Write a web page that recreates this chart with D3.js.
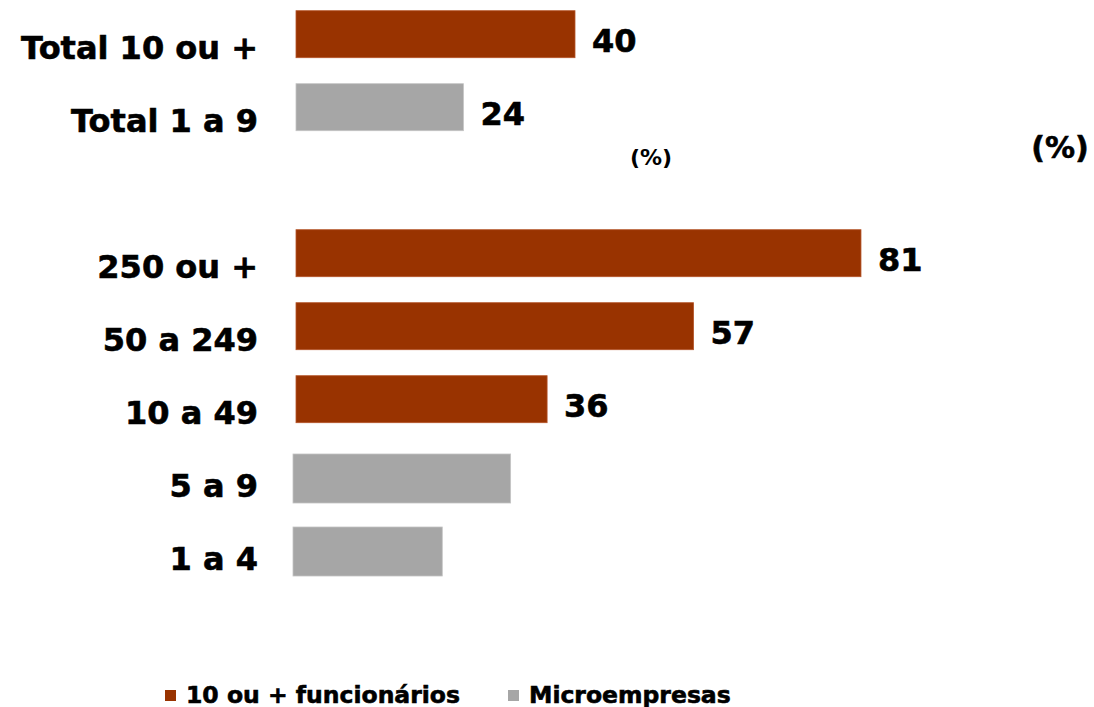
<!DOCTYPE html>
<html><head><meta charset="utf-8">
<script src="https://cdn.jsdelivr.net/npm/d3@7"></script>
<style>
html,body{margin:0;padding:0;background:#fff;}
svg{display:block;font-family:"DejaVu Sans",Verdana,sans-serif;font-weight:bold;}
.heavy{stroke:#000;stroke-width:0.6px;}
</style></head>
<body>
<script>
// ---- data ----
const totalCategories = ["Total 10 ou +", "Total 1 a 9"];
const totalValues = [40, 24];
const totalSeries = ["10 ou + funcionários", "Microempresas"];

const sizeCategories = ["250 ou +", "50 a 249", "10 a 49", "5 a 9", "1 a 4"];
const sizeValues = [81, 57, 36, 31.2, 21.4];
const sizeSeries = ["10 ou + funcionários", "10 ou + funcionários", "10 ou + funcionários", "Microempresas", "Microempresas"];
const sizeShowValue = [true, true, true, false, false];

const seriesNames = ["10 ou + funcionários", "Microempresas"];
const seriesColors = ["#993300", "#a6a6a6"];
const unitLabel = "(%)";

// ---- layout ----
const W = 1094, H = 707;
const svg = d3.select("body").append("svg").attr("width", W).attr("height", H);

const rows = [];
totalCategories.forEach((c, i) => rows.push({cat: c, value: totalValues[i], series: totalSeries[i], show: true, group: "total"}));
sizeCategories.forEach((c, i) => rows.push({cat: c, value: sizeValues[i], series: sizeSeries[i], show: sizeShowValue[i], group: "size"}));

const slotDomain = [...totalCategories, "__gap__", ...sizeCategories];
const y = d3.scalePoint().domain(slotDomain).range([47, 47 + 73 * 7]);
const x = d3.scaleLinear().domain([0, 100]).range([0, 697.5]);
const color = d3.scaleOrdinal().domain(seriesNames).range(seriesColors);

const x0Main = 296, x0Micro = 293;
function isMicroSize(d) { return d.group === "size" && d.series === "Microempresas"; }
function barX(d) { return isMicroSize(d) ? x0Micro : x0Main; }
function barH(d) { return isMicroSize(d) ? 49 : 47; }
function barCenter(d) { return y(d.cat) - (isMicroSize(d) ? 6.5 : 12.8); }

svg.append("g").selectAll("rect").data(rows).join("rect")
  .attr("x", d => barX(d))
  .attr("y", d => barCenter(d) - barH(d) / 2)
  .attr("width", d => x(d.value))
  .attr("height", d => barH(d))
  .attr("fill", d => color(d.series))
  .attr("stroke", d => d.series === "Microempresas" ? "#c4c4c4" : "#b5552a")
  .attr("stroke-width", 0.8);

// category labels
svg.append("g").selectAll("text").data(rows).join("text")
  .attr("class", "heavy")
  .attr("x", 258)
  .attr("y", d => y(d.cat) + 12)
  .attr("text-anchor", "end")
  .attr("font-size", 32)
  .attr("fill", "#000")
  .text(d => d.cat);

// value labels
svg.append("g").selectAll("text").data(rows.filter(d => d.show)).join("text")
  .attr("class", "heavy")
  .attr("x", d => barX(d) + x(d.value) + 17)
  .attr("y", d => barCenter(d) + 17.5)
  .attr("font-size", 32)
  .attr("fill", "#000")
  .text(d => d3.format("d")(d.value));

// unit labels
svg.append("text").attr("x", 651).attr("y", 165).attr("text-anchor", "middle")
  .attr("font-size", 22).text(unitLabel);
svg.append("text").attr("class", "heavy").attr("x", 1060).attr("y", 158).attr("text-anchor", "middle")
  .attr("font-size", 30).text(unitLabel);

// legend
const legendX = [165, 508];
const lg = svg.append("g").selectAll("g").data(seriesNames).join("g")
  .attr("transform", (d, i) => `translate(${legendX[i]},690)`);
lg.append("rect").attr("width", 11).attr("height", 11).attr("fill", d => color(d));
lg.append("text").attr("class", "heavy").attr("x", 21).attr("y", 12.5).attr("font-size", 23.5).attr("stroke-width", 0.4).text(d => d);
</script>
</body></html>
